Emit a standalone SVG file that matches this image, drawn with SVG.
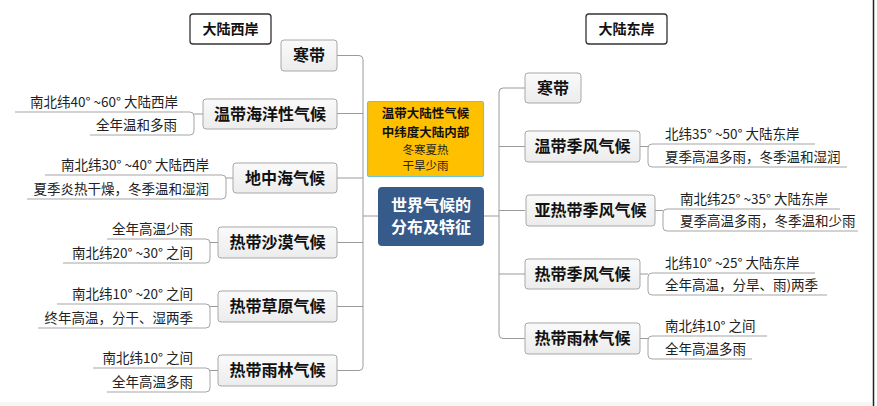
<svg xmlns="http://www.w3.org/2000/svg" width="877" height="406" viewBox="0 0 877 406">
<defs>
<linearGradient id="ng" x1="0" y1="0" x2="0" y2="1"><stop offset="0" stop-color="#fafafa"/><stop offset="1" stop-color="#ececec"/></linearGradient>
</defs>
<style>
.node rect{fill:url(#ng);stroke:#a8a8a8;stroke-width:1}
.lbl{font-family:"Noto Sans CJK SC","Noto Sans",sans-serif;font-weight:bold;font-size:16px;fill:#111;text-anchor:middle}
.title rect{fill:#fff;stroke:#333;stroke-width:1.3}
.title text{font-family:"Noto Sans CJK SC",sans-serif;font-weight:bold;font-size:14px;fill:#111;text-anchor:middle}
.sub{font-family:"Noto Sans CJK SC","Noto Sans",sans-serif;font-size:13.5px;fill:#222}
.l{text-anchor:end}
.conn path{fill:none;stroke:#9a9a9a;stroke-width:1}
.under path{fill:none;stroke:#a5a5a5;stroke-width:1}
.ct{font-family:"Noto Sans CJK SC",sans-serif;text-anchor:middle}
</style>
<rect width="877" height="406" fill="#fff"/>
<line x1="873.5" y1="0" x2="873.5" y2="406" stroke="#222" stroke-width="1.5"/>
<rect x="0" y="402" width="872" height="4" fill="#f6f6f6"/>

<g id="connectors" class="conn">
<path d="M337,55.5 H359 Q363,55.5 363,59.5 V366.5 Q363,370.5 359,370.5 H337"/>
<path d="M337,113.5 H363 M337,178 H363 M337,242.5 H363 M337,306.5 H363 M363,216 H378"/>
<path d="M525,88 H503 Q499,88 499,92 V334.5 Q499,338.5 503,338.5 H525"/>
<path d="M499,146.5 H525 M499,210.5 H525 M499,274 H525 M484,216 H499"/>
<path d="M203,114 H194 M233,178 H226 M218,242.5 H210 M218,306.5 H210 M218,370.5 H210"/>
<path d="M640,146.5 H648 M655,210.5 H663 M640,274 H648 M640,338.5 H648"/>
</g>
<g id="underlines" class="under">
<path d="M15,112 H190 Q194,112 194,116 V131 Q194,135 190,135 H90"/>
<path d="M45,175 H222 Q226,175 226,179 V195 Q226,199 222,199 H27"/>
<path d="M107,239 H206 Q210,239 210,243 V259 Q210,263 206,263 H63"/>
<path d="M57,304 H206 Q210,304 210,308 V324 Q210,328 206,328 H38"/>
<path d="M93,368 H206 Q210,368 210,372 V388 Q210,392 206,392 H107"/>
<path d="M815,144 H652 Q648,144 648,148 V163 Q648,167 652,167 H847"/>
<path d="M840,209 H667 Q663,209 663,213 V227 Q663,231 667,231 H858"/>
<path d="M815,273 H652 Q648,273 648,277 V291 Q648,295 652,295 H827"/>
<path d="M767,336 H652 Q648,336 648,340 V355 Q648,359 652,359 H752"/>
</g>

<g id="title-west" class="title"><rect x="190" y="14" width="81" height="30" rx="3"/><text x="230.5" y="34">大陆西岸</text></g>
<g id="title-east" class="title"><rect x="586" y="14" width="81" height="30" rx="3"/><text x="626.5" y="34">大陆东岸</text></g>

<g id="center">
<rect x="378" y="187" width="106" height="59" rx="4" fill="#365A8A"/>
<text class="ct" x="431" y="211" font-weight="bold" font-size="16" fill="#fff">世界气候的</text>
<text class="ct" x="431" y="233" font-weight="bold" font-size="16" fill="#fff">分布及特征</text>
</g>
<g id="continental">
<rect x="367.5" y="101.5" width="116" height="75" rx="2" fill="#FFC000" stroke="#6ec4d8" stroke-width="1.2"/>
<text class="ct" x="425.5" y="118" font-weight="bold" font-size="12.5" fill="#111">温带大陆性气候</text>
<text class="ct" x="425.5" y="136.5" font-weight="bold" font-size="12.5" fill="#111">中纬度大陆内部</text>
<text class="ct" x="425.5" y="153.6" font-size="11.5" fill="#222">冬寒夏热</text>
<text class="ct" x="425.5" y="170.4" font-size="11.5" fill="#222">干旱少雨</text>
</g>

<g id="w-cold" class="node"><rect x="281" y="40" width="56" height="31" rx="3"/><text class="lbl" x="309" y="61">寒带</text></g>
<g id="w-temperate" class="node"><rect x="203" y="99" width="134" height="30" rx="3"/><text class="lbl" x="270" y="119.5">温带海洋性气候</text>
<text class="sub l" x="178" y="107">南北纬40° ~60° 大陆西岸</text><text class="sub l" x="177" y="130">全年温和多雨</text></g>
<g id="w-mediterranean" class="node"><rect x="233" y="163" width="104" height="30" rx="3"/><text class="lbl" x="285" y="183.5">地中海气候</text>
<text class="sub l" x="209" y="170">南北纬30° ~40° 大陆西岸</text><text class="sub l" x="209" y="194">夏季炎热干燥，冬季温和湿润</text></g>
<g id="w-desert" class="node"><rect x="218" y="227" width="119" height="31" rx="3"/><text class="lbl" x="277.5" y="248">热带沙漠气候</text>
<text class="sub l" x="193" y="234">全年高温少雨</text><text class="sub l" x="193" y="258">南北纬20° ~30° 之间</text></g>
<g id="w-savanna" class="node"><rect x="218" y="291" width="119" height="31" rx="3"/><text class="lbl" x="277.5" y="312">热带草原气候</text>
<text class="sub l" x="193" y="299">南北纬10° ~20° 之间</text><text class="sub l" x="193" y="323">终年高温，分干、湿两季</text></g>
<g id="w-rainforest" class="node"><rect x="218" y="355" width="119" height="31" rx="3"/><text class="lbl" x="277.5" y="376">热带雨林气候</text>
<text class="sub l" x="193" y="363">南北纬10° 之间</text><text class="sub l" x="193" y="387">全年高温多雨</text></g>

<g id="e-cold" class="node"><rect x="525" y="73" width="56" height="30" rx="3"/><text class="lbl" x="553" y="93.5">寒带</text></g>
<g id="e-temperate" class="node"><rect x="525" y="131" width="115" height="31" rx="3"/><text class="lbl" x="582.5" y="152">温带季风气候</text>
<text class="sub" x="665" y="139">北纬35° ~50° 大陆东岸</text><text class="sub" x="665" y="162">夏季高温多雨，冬季温和湿润</text></g>
<g id="e-subtropical" class="node"><rect x="526" y="195" width="129" height="31" rx="3"/><text class="lbl" x="590.5" y="216">亚热带季风气候</text>
<text class="sub" x="680" y="204">南北纬25° ~35° 大陆东岸</text><text class="sub" x="680" y="226">夏季高温多雨，冬季温和少雨</text></g>
<g id="e-monsoon" class="node"><rect x="525" y="259" width="115" height="30" rx="3"/><text class="lbl" x="582.5" y="279.5">热带季风气候</text>
<text class="sub" x="665" y="268">北纬10° ~25° 大陆东岸</text><text class="sub" x="665" y="290">全年高温，分旱、雨)两季</text></g>
<g id="e-rainforest" class="node"><rect x="525" y="323" width="115" height="31" rx="3"/><text class="lbl" x="582.5" y="344">热带雨林气候</text>
<text class="sub" x="665" y="331">南北纬10° 之间</text><text class="sub" x="665" y="354">全年高温多雨</text></g>
</svg>
